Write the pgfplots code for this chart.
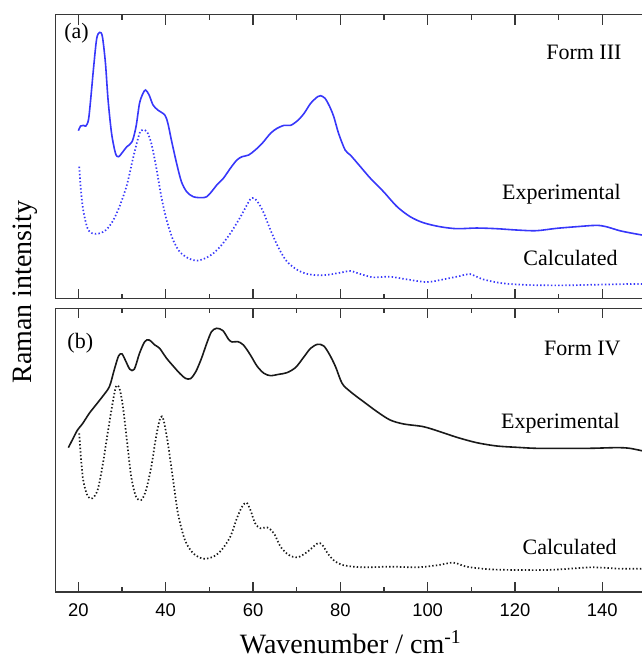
\documentclass[border=0pt]{standalone}
\usepackage{fontspec}
\setmainfont{Liberation Serif}
\newfontfamily\tickfont{Liberation Sans}
\usepackage{pgfplots}
\pgfplotsset{compat=1.18}

\definecolor{expblue}{RGB}{55,55,250}
\definecolor{axgray}{RGB}{55,55,55}
\definecolor{curveblack}{RGB}{25,25,25}

% shared look of both panels
\pgfplotsset{
  panel/.style={
    scale only axis, width=295.1pt,
    xmin=14.8, xmax=150, ymin=0,
    ytick=\empty,
    xtick={20,40,...,140}, minor x tick num=1,
    tick align=inside,
    major tick length=5pt, minor tick length=2.5pt,
    axis line style={axgray, line width=0.75pt},
    every tick/.style={axgray, line width=0.65pt},
    every minor tick/.style={axgray, line width=0.6pt},
    tick label style={font=\tickfont\fontsize{9.2}{11}\selectfont},
    /pgf/number format/assume math mode=true,
  },
  exp/.style={line width=0.8pt},
  calc/.style={line width=0.85pt, dash pattern=on 0.7pt off 1.1pt},
}
\tikzset{lbl/.style={inner sep=0pt, font=\fontsize{11}{13}\selectfont}}

\begin{document}
\begin{tikzpicture}

% (a) Form III
\begin{axis}[panel, at={(0,146.65pt)}, height=142pt, ymax=852, xticklabels=\empty]
\addplot[expblue, exp, smooth] coordinates {
(20.0,504) (20.5,518) (21.2,520) (21.7,518) (22.3,536) (22.8,596) (23.5,696)
(24.2,781) (24.9,799) (25.5,786) (26.2,706) (26.8,596) (27.6,496) (28.5,436)
(29.2,426) (30.2,441) (31.1,456) (32.3,471) (33.2,516) (34.0,586) (34.8,616)
(35.4,626) (36.2,611) (37.1,581) (38.2,566) (39.8,551) (40.5,526) (41.3,476)
(42.5,406) (43.6,351) (44.8,321) (46.3,306) (48.2,303) (49.4,306) (50.5,321)
(51.7,341) (53.2,361) (54.8,391) (56.3,416) (57.5,426) (59.0,431) (60.5,446)
(62.1,466) (64.0,496) (65.5,511) (67.1,520) (68.6,520) (70.2,534) (71.7,556)
(73.2,586) (74.8,606) (75.5,609) (76.5,601) (77.5,578) (78.5,546) (79.6,496)
(81.1,446) (82.3,431) (84.6,396) (86.9,361) (89.9,321) (93.0,276) (96.0,246)
(99.0,228) (102.8,216) (106.7,210) (111.2,212) (115.8,210) (120.4,206)
(124.9,204) (129.5,211) (134.1,216) (138.6,220) (140.9,216) (144.0,204)
(147.0,196) (150.0,189)
};
\addplot[expblue, calc, smooth] coordinates {
(20.2,396) (20.5,336) (21.1,266) (22.1,211) (23.2,196) (24.8,196) (26.3,206)
(27.8,231) (29.4,276) (31.1,341) (32.6,426) (34.0,496) (34.8,506) (35.7,501)
(36.7,466) (37.8,396) (39.0,306) (40.2,236) (41.7,176) (43.2,141) (45.2,121)
(47.1,114) (49.0,121) (50.9,136) (52.8,161) (54.8,196) (56.7,236) (58.2,271)
(59.4,299) (60.3,301) (61.3,286) (62.5,256) (64.0,206) (65.9,151) (67.8,111)
(70.2,86) (72.5,74) (75.5,70) (77.8,73) (80.0,78) (82.3,83) (84.6,74)
(87.6,64) (91.4,66) (95.2,58) (99.8,50) (103.6,58) (107.4,68) (109.7,74)
(112.7,58) (117.3,46) (123.4,41) (131.0,40) (138.6,42) (146.3,44) (150.0,44)
};
\node[lbl, anchor=west] at (axis cs:16.7,797) {(a)};
\node[lbl, anchor=east] at (axis cs:144.5,740) {Form III};
\node[lbl, anchor=east] at (axis cs:144.3,314) {Experimental};
\node[lbl, anchor=east] at (axis cs:143.6,122) {Calculated};
\end{axis}

% (b) Form IV
\begin{axis}[panel, at={(0,0)}, height=141.85pt, ymax=851,
  xticklabel shift=2.2pt,
  xlabel={Wavenumber / cm\textsuperscript{-1}},
  xlabel style={font=\fontsize{14}{16}\selectfont, at={(axis description cs:0.5,0)},
    anchor=center, yshift=-25pt}]
\addplot[curveblack, exp, smooth] coordinates {
(17.7,433) (18.6,456) (19.8,486) (20.9,504) (22.5,536) (24.0,561) (25.5,586)
(27.1,616) (28.2,666) (29.2,708) (30.0,714) (30.9,691) (31.8,668) (32.8,668)
(34.0,716) (35.2,751) (36.2,756) (37.5,741) (38.6,731) (40.2,701) (41.7,678)
(43.2,656) (44.5,641) (45.7,640) (46.9,661) (48.2,701) (49.4,746) (50.5,781)
(51.7,791) (53.1,784) (54.4,758) (55.2,750) (56.5,751) (57.8,741) (59.4,711)
(60.9,678) (62.5,656) (64.0,649) (65.9,653) (67.8,658) (69.8,674) (71.7,706)
(73.2,731) (74.8,743) (76.2,738) (77.5,713) (78.9,676) (80.4,626) (82.3,601)
(85.3,571) (88.4,541) (91.4,516) (94.5,504) (99.0,496) (102.8,481) (106.7,464)
(111.2,448) (115.8,438) (120.4,434) (124.9,431) (131.0,431) (137.1,431)
(143.2,433) (146.3,431) (150.0,421)
};
\addplot[curveblack, calc, smooth] coordinates {
(20.2,476) (20.5,416) (21.1,336) (22.1,288) (23.2,281) (24.4,306) (25.5,376)
(26.7,476) (27.7,556) (28.6,616) (29.4,611) (30.2,556) (31.1,456) (32.1,346)
(33.2,286) (34.4,276) (35.5,306) (36.7,376) (37.8,466) (38.8,524) (39.5,516)
(40.5,446) (41.7,336) (42.8,236) (44.4,156) (46.3,116) (48.6,100) (50.9,106)
(52.8,126) (54.8,166) (56.3,221) (57.5,256) (58.5,268) (59.4,246) (60.5,206)
(61.7,191) (63.2,194) (64.8,176) (66.3,136) (68.2,111) (70.2,104) (72.5,121)
(74.8,146) (75.9,141) (77.1,116) (78.6,94) (80.8,80) (85.3,74) (91.4,76)
(97.5,74) (102.1,80) (105.9,88) (108.9,76) (114.3,68) (120.4,66) (127.2,66)
(132.6,70) (137.9,74) (144.0,70) (150.0,70)
};
\node[lbl, anchor=west] at (axis cs:17.4,747) {(b)};
\node[lbl, anchor=east] at (axis cs:144.3,732) {Form IV};
\node[lbl, anchor=east] at (axis cs:144.1,507) {Experimental};
\node[lbl, anchor=east] at (axis cs:143.4,135) {Calculated};
\end{axis}

\node[rotate=90, font=\fontsize{14}{16}\selectfont] at (-15.35pt,150pt) {Raman intensity};

\pgfresetboundingbox
\path (-27.85pt,-33.5pt) rectangle (293.15pt,296pt);
\end{tikzpicture}
\end{document}
